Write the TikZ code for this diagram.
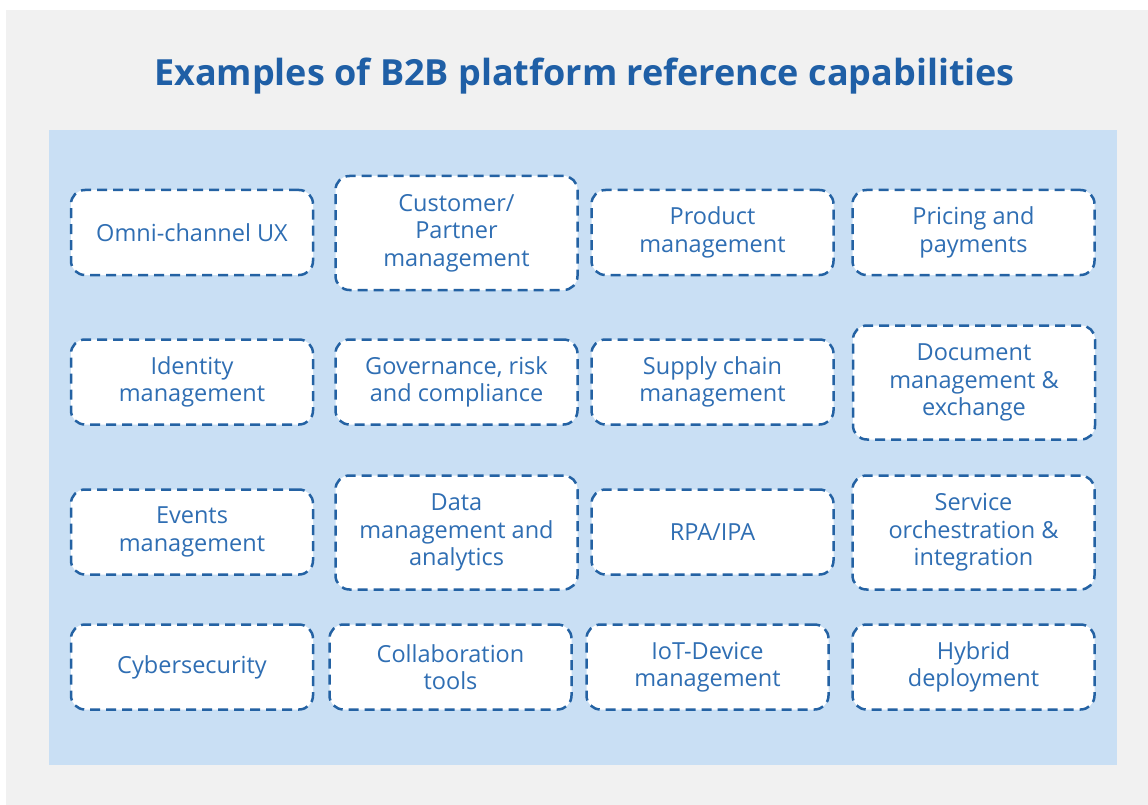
\documentclass[tikz,border=0pt]{standalone}
\usepackage{fontspec}
\setmainfont{Open Sans}
\definecolor{pagegray}{HTML}{F1F1F1}
\definecolor{panelblue}{HTML}{C9DFF4}
\definecolor{dashblue}{HTML}{2462A3}
\definecolor{textblue}{HTML}{2F6EB3}
\definecolor{titleblue}{HTML}{1F5FA6}
\begin{document}
\begin{tikzpicture}[x=1pt,y=-1pt,
  capbox/.style={draw=dashblue, fill=white, line width=2.5pt, dash pattern=on 10pt off 6pt,
    rounded corners=14pt, minimum width=242pt, minimum height=85pt, align=center,
    text=textblue, font=\fontsize{23.5}{27.5}\selectfont, inner sep=2pt},
  tall/.style={minimum height=114pt}]
\useasboundingbox (0,0) rectangle (1148,805);
\fill[white] (0,0) rectangle (1148,805);
\fill[pagegray] (6,10) rectangle (1148,805);
\fill[panelblue] (49,130) rectangle (1117,765);
\node[text=titleblue, font=\fontsize{36}{44}\selectfont\bfseries] (title) at (584.5,76) {Examples of B2B platform reference capabilities};
% row 1
\node[capbox] (omni) at (192,232.5) {Omni-channel UX};
\node[capbox,tall] (cust) at (456.5,233) {Customer/\\Partner\\management};
\node[capbox] (prod) at (712.5,232.5) {Product\\management};
\node[capbox] (price) at (973.5,232.5) {Pricing and\\payments};
% row 2
\node[capbox] (ident) at (192,382) {Identity\\management};
\node[capbox] (gov) at (456.5,382) {Governance, risk\\and compliance};
\node[capbox] (supply) at (712.5,382) {Supply chain\\management};
\node[capbox,tall] (doc) at (974,382.5) {Document\\management \&\\exchange};
% row 3
\node[capbox] (events) at (192,532) {Events\\management};
\node[capbox,tall] (data) at (456.5,532.5) {Data\\management and\\analytics};
\node[capbox] (rpa) at (712.5,532) {RPA/IPA};
\node[capbox,tall] (serv) at (973.5,532.5) {Service\\orchestration \&\\integration};
% row 4
\node[capbox] (cyber) at (192,667) {Cybersecurity};
\node[capbox] (collab) at (450.5,667) {Collaboration\\tools};
\node[capbox] (iot) at (707.5,667) {IoT-Device\\management};
\node[capbox] (hybrid) at (973.5,667) {Hybrid\\deployment};
\end{tikzpicture}
\end{document}
